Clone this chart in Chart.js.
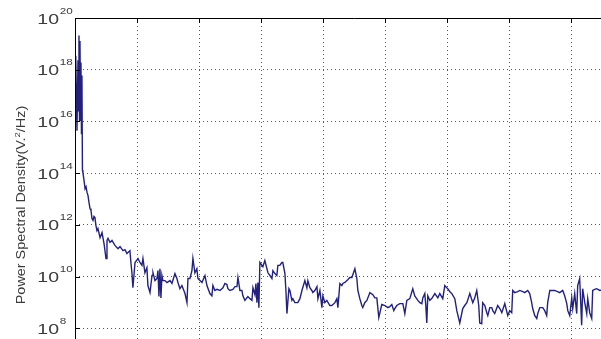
<!DOCTYPE html>
<html>
<head>
<meta charset="utf-8">
<script src="https://cdn.jsdelivr.net/npm/chart.js@4.4.1/dist/chart.umd.min.js"></script>
<style>
  html, body { margin: 0; padding: 0; background: #fff; overflow: hidden; }
  #wrap { width: 601px; height: 339px; overflow: hidden; position: relative; }
  canvas { position: absolute; left: 0; top: 0; }
</style>
</head>
<body>
<div id="wrap"><canvas id="psd" width="700" height="440"></canvas></div>
<script>
// Frequency of each spectral estimate (Hz)
const freqHz = [
  0, 0.4, 0.8, 1.6, 2.4, 2.8, 3.2, 3.6, 4.0, 4.4, 4.8, 5.2, 5.6, 6.0, 6.4, 7.3, 8.1, 8.9, 9.7, 10.5,
  11.3, 12.1, 12.9, 13.7, 14.5, 15.3, 16.1, 16.9, 17.7, 18.5, 20.2, 21.8, 23.4, 25.0, 25.8, 26.6, 28.2, 29.8, 32.2, 34.7,
  36.3, 38.7, 40.3, 41.9, 42.7, 44.3, 45.1, 45.9, 46.7, 48.4, 50.8, 52.4, 54.0, 54.8, 56.4, 58.0, 58.8, 60.5, 62.1, 62.9,
  64.5, 66.1, 66.9, 67.7, 68.5, 69.3, 70.1, 70.9, 72.5, 74.2, 76.6, 78.2, 80.6, 82.2, 83.0, 84.6, 86.2, 88.7, 90.3, 91.1,
  92.7, 94.3, 95.1, 96.7, 98.3, 99.1, 100.8, 102.4, 104.8, 106.4, 108.8, 110.4, 111.2, 112.8, 114.5, 116.9, 119.3, 120.9, 122.5, 123.3,
  124.9, 127.3, 129.0, 130.6, 131.4, 133.0, 134.6, 135.4, 137.0, 139.4, 141.1, 142.7, 143.5, 145.1, 145.9, 146.7, 147.5, 148.3, 149.1, 151.5,
  153.1, 155.6, 157.2, 158.8, 159.6, 161.2, 162.8, 163.6, 165.2, 166.8, 167.6, 169.3, 170.1, 170.9, 172.5, 173.3, 174.9, 175.7, 177.3, 179.7,
  181.4, 183.0, 185.4, 187.0, 187.8, 189.4, 191.0, 191.8, 193.4, 195.1, 195.9, 197.5, 199.1, 199.9, 201.5, 203.1, 205.5, 207.1, 209.6, 211.2,
  212.0, 213.6, 215.2, 216.0, 217.6, 220.0, 221.6, 223.3, 225.7, 227.3, 228.1, 229.7, 231.3, 232.1, 233.7, 235.4, 237.8, 240.2, 241.8, 243.4,
  245.0, 247.4, 249.9, 252.3, 253.9, 255.5, 257.1, 257.9, 259.5, 261.9, 264.4, 266.0, 267.6, 270.0, 272.4, 274.0, 276.5, 278.1, 279.7, 280.5,
  282.1, 282.9, 283.7, 284.5, 286.1, 287.7, 290.2, 292.6, 294.2, 296.6, 298.2, 299.8, 300.6, 302.3, 303.9, 306.3, 307.9, 310.3, 312.7, 314.3,
  316.0, 318.4, 320.8, 322.4, 324.0, 325.6, 326.4, 328.0, 328.8, 330.5, 332.1, 332.9, 334.5, 336.1, 336.9, 338.5, 340.9, 342.6, 344.2, 346.6,
  349.0, 350.6, 352.2, 353.0, 354.6, 357.1, 358.7, 361.1, 362.7, 365.1, 366.7, 368.3, 369.1, 370.8, 372.4, 373.2, 374.8, 377.2, 378.8, 380.4,
  381.2, 382.9, 386.9, 390.9, 393.3, 394.9, 396.6, 397.4, 399.0, 400.6, 401.4, 403.0, 404.6, 405.4, 407.0, 408.6, 409.4, 411.1, 412.7, 413.5,
  415.1, 416.7, 417.5, 419.1, 420.7, 423.2, 427.2, 432.8, 439.3
];

// Power spectral density at each frequency (V^2/Hz)
const psd = [
  2.3e18, 1.1e16, 3.5e18, 4.4e15, 2.3e18, 2.6e16, 2.1e19, 1.1e16, 1.3e19, 6.5e16, 1.9e18, 3.4e15, 6.0e17, 1.3e14, 1.05e14, 5.1e13, 2.5e13, 3.0e13, 1.8e13, 1.35e13,
  7.2e12, 4.3e12, 3.6e12, 1.75e12, 1.5e12, 2.1e12, 1.9e12, 9.4e11, 6.0e11, 7.2e11, 3.2e11, 5.0e11, 1.9e11, 5.0e10, 2.5e11, 3.0e11, 2.1e11, 2.5e11, 1.6e11, 1.2e11,
  1.45e11, 1.0e11, 1.1e11, 7.8e10, 8.5e10, 1.0e11, 3.5e10, 1.4e10, 3.7e9, 3.5e10, 5.0e10, 3.5e10, 2.7e10, 5.0e10, 1.4e10, 2.2e10, 4.5e9, 2.4e9, 1.1e10, 1.4e10,
  7.0e9, 8.4e9, 1.7e10, 1.7e9, 2.0e10, 1.5e9, 1.1e10, 7.0e9, 7.0e9, 5.9e9, 7.0e9, 5.4e9, 1.3e10, 8.4e9, 5.9e9, 3.4e9, 4.5e9, 2.2e9, 9.8e8, 8.4e9,
  8.4e9, 1.7e10, 5.0e10, 1.4e10, 2.0e10, 8.4e9, 7.0e9, 5.9e9, 1.1e10, 4.5e9, 2.2e9, 1.8e9, 4.5e9, 2.9e9, 3.2e9, 2.9e9, 3.7e9, 5.4e9, 4.9e9, 3.4e9,
  2.9e9, 3.2e9, 4.1e9, 4.1e9, 9.2e9, 2.9e9, 2.9e9, 1.8e9, 1.2e9, 1.7e9, 1.4e9, 1.2e9, 3.7e9, 2.0e9, 5.4e9, 9.8e8, 5.9e9, 6.3e8, 3.5e10, 2.4e10,
  4.2e10, 1.4e10, 1.1e10, 8.4e9, 1.7e10, 1.3e10, 1.1e10, 2.7e10, 2.7e10, 3.5e10, 3.5e10, 1.3e10, 2.9e9, 3.7e8, 3.4e9, 2.9e9, 1.2e9, 1.4e9, 9.8e8, 9.8e8,
  1.4e9, 2.9e9, 7.0e9, 3.7e9, 7.0e9, 3.7e9, 2.9e9, 2.4e9, 2.9e9, 4.1e9, 1.4e9, 2.9e9, 6.3e8, 1.8e9, 9.8e8, 1.2e9, 7.6e8, 7.6e8, 9.8e8, 1.4e9,
  6.3e8, 5.4e9, 4.5e9, 5.4e9, 5.9e9, 7.6e9, 9.2e9, 9.2e9, 2.0e10, 8.4e9, 2.9e9, 1.4e9, 7.6e8, 6.3e8, 9.8e8, 1.2e9, 2.4e9, 2.0e9, 1.5e9, 1.5e9,
  2.6e8, 8.3e8, 7.6e8, 6.3e8, 6.9e8, 8.3e8, 4.8e8, 5.8e8, 7.6e8, 9.0e8, 9.0e8, 3.7e8, 1.2e9, 1.4e9, 3.4e9, 1.8e9, 1.2e9, 9.8e8, 9.0e8, 1.5e9,
  2.2e9, 7.6e8, 1.6e8, 1.8e9, 1.2e9, 1.4e9, 2.2e9, 1.5e9, 2.2e9, 1.4e9, 4.5e9, 3.7e9, 3.4e9, 2.6e9, 2.2e9, 1.4e9, 4.8e8, 1.6e8, 5.8e8, 7.6e8,
  9.8e8, 2.2e9, 9.8e8, 1.5e9, 2.9e9, 7.6e8, 1.6e8, 1.5e8, 9.8e8, 7.6e8, 4.0e8, 3.1e8, 6.3e8, 6.3e8, 4.8e8, 3.7e8, 7.6e8, 5.8e8, 4.0e8, 9.0e8,
  3.1e8, 4.8e8, 4.0e8, 2.9e9, 2.4e9, 2.6e9, 2.9e9, 2.6e9, 2.4e9, 2.9e9, 2.2e9, 9.8e8, 5.8e8, 3.1e8, 2.4e8, 3.7e8, 6.3e8, 6.3e8, 4.8e8, 3.1e8,
  9.8e8, 2.9e9, 2.9e9, 2.4e9, 2.9e9, 1.8e9, 9.0e8, 4.8e8, 3.1e8, 1.5e9, 5.8e8, 2.2e9, 3.7e8, 4.5e9, 8.4e9, 1.3e8, 3.4e9, 9.8e8, 3.7e8, 1.4e9,
  4.0e8, 2.4e8, 2.9e9, 3.2e9, 3.4e9, 2.9e9, 3.2e9, 2.6e9, 2.9e9
];

// Decade exponents that carry a tick label on the y axis
const yTickPowers = [6, 8, 10, 12, 14, 16, 18, 20];

const yTitleParts = ['Power Spectral Density(V.', '2', '/Hz)'];

const LABEL_COLOR = '#3c3c3c';
const FONT = '"Liberation Sans", Arial, sans-serif';

// Frame, inward ticks, decade labels and the rotated axis title
const matlabAxes = {
  id: 'matlabAxes',
  afterDraw(chart) {
    const { ctx, chartArea: a, scales } = chart;
    const xs = scales.x, ys = scales.y;
    ctx.save();
    ctx.strokeStyle = '#000';
    ctx.lineWidth = 1;
    ctx.beginPath();
    ctx.moveTo(Math.round(a.left) + 0.5, a.bottom);
    ctx.lineTo(Math.round(a.left) + 0.5, Math.round(a.top) + 0.5);
    ctx.lineTo(a.right, Math.round(a.top) + 0.5);
    ctx.stroke();

    // inward tick marks
    ctx.beginPath();
    xs.ticks.forEach(t => {
      const px = Math.round(xs.getPixelForValue(t.value)) + 0.5;
      ctx.moveTo(px, a.top); ctx.lineTo(px, a.top + 5);
    });
    ys.ticks.forEach(t => {
      const py = Math.round(ys.getPixelForValue(t.value)) + 0.5;
      ctx.moveTo(a.left, py); ctx.lineTo(a.left + 5, py);
    });
    ctx.stroke();

    // decade labels: 10 with a raised exponent
    ctx.fillStyle = LABEL_COLOR;
    yTickPowers.forEach(p => {
      const py = ys.getPixelForValue(Math.pow(10, p));
      ctx.save();
      ctx.translate(a.left - 16, py);
      ctx.scale(1.3, 1);
      ctx.font = '15px ' + FONT;
      ctx.textAlign = 'right';
      ctx.textBaseline = 'alphabetic';
      ctx.fillText('10', 0, 5.5);
      ctx.font = '9px ' + FONT;
      ctx.textAlign = 'left';
      ctx.fillText(String(p), 0.5, -4.5);
      ctx.restore();
    });

    // y axis title
    ctx.save();
    const cy = (a.top + a.bottom) / 2 + 6;
    ctx.translate(24.5, cy);
    ctx.rotate(-Math.PI / 2);
    ctx.scale(1.2, 1);
    ctx.textBaseline = 'alphabetic';
    ctx.textAlign = 'left';
    ctx.font = '12px ' + FONT;
    const w0 = ctx.measureText(yTitleParts[0]).width;
    const w2 = ctx.measureText(yTitleParts[2]).width;
    ctx.font = '8px ' + FONT;
    const w1 = ctx.measureText(yTitleParts[1]).width;
    let x = -(w0 + w1 + w2) / 2;
    ctx.font = '12px ' + FONT;
    ctx.fillText(yTitleParts[0], x, 0);
    x += w0;
    ctx.font = '8px ' + FONT;
    ctx.fillText(yTitleParts[1], x, -5);
    x += w1;
    ctx.font = '12px ' + FONT;
    ctx.fillText(yTitleParts[2], x, 0);
    ctx.restore();

    ctx.restore();
  }
};

const points = freqHz.map((f, i) => ({ x: f, y: psd[i] }));

new Chart(document.getElementById('psd'), {
  type: 'line',
  data: {
    datasets: [{
      data: points,
      borderColor: '#22227e',
      borderWidth: 1.4,
      pointRadius: 0,
      tension: 0,
      fill: false
    }]
  },
  options: {
    responsive: false,
    animation: false,
    devicePixelRatio: 1,
    layout: { padding: { left: 0, top: 18, right: 67, bottom: 0 } },
    plugins: { legend: { display: false }, tooltip: { enabled: false } },
    scales: {
      x: {
        type: 'linear',
        min: 0,
        max: 450,
        ticks: { stepSize: 50, display: false },
        grid: { color: '#5a5a5a', lineWidth: 1, drawTicks: false },
        border: { display: false, dash: [1, 3] },
        afterFit(scale) { scale.height = 60; }
      },
      y: {
        type: 'logarithmic',
        min: 1e6,
        max: 1e20,
        afterBuildTicks(scale) {
          scale.ticks = yTickPowers.map(p => ({ value: Math.pow(10, p) }));
        },
        ticks: { display: false },
        grid: { color: '#5a5a5a', lineWidth: 1, drawTicks: false },
        border: { display: false, dash: [1, 3] },
        afterFit(scale) { scale.width = 75; }
      }
    }
  },
  plugins: [matlabAxes]
});
</script>
</body>
</html>
